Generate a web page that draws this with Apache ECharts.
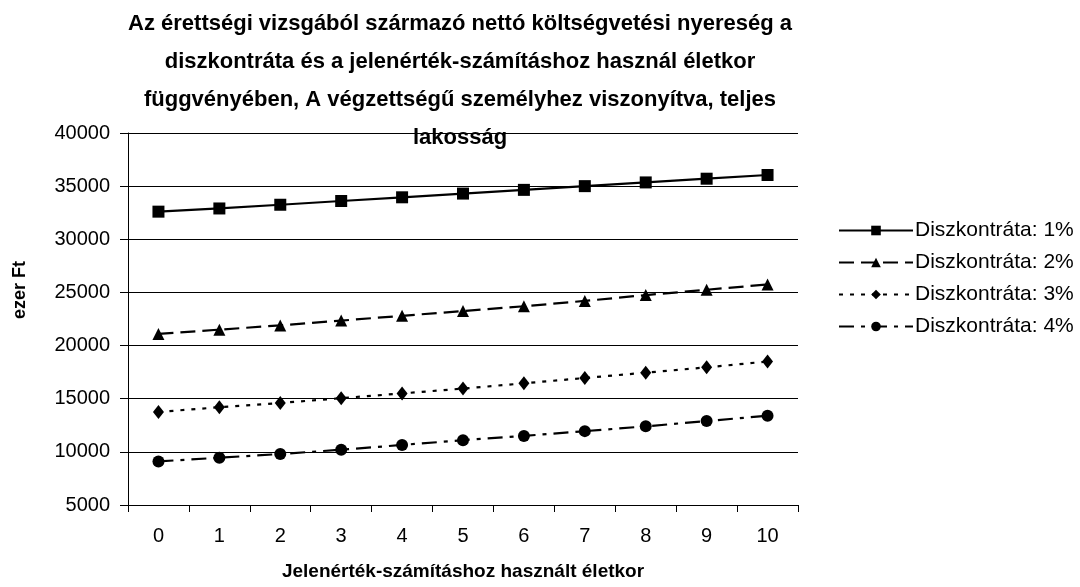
<!DOCTYPE html>
<html>
<head>
<meta charset="utf-8">
<script src="https://cdn.jsdelivr.net/npm/echarts@6/dist/echarts.min.js"></script>
<style>
  html, body { margin: 0; padding: 0; background: #fff; }
  #chart { width: 1080px; height: 587px; }
</style>
</head>
<body>
<div id="chart"></div>
<script>
// életkor kategóriák
var ages = ['0', '1', '2', '3', '4', '5', '6', '7', '8', '9', '10'];
var names = ['Diszkontráta: 1%', 'Diszkontráta: 2%', 'Diszkontráta: 3%', 'Diszkontráta: 4%'];
var rate1 = [32600, 32900, 33250, 33600, 33950, 34300, 34650, 35000, 35350, 35700, 36050];
var rate2 = [21100, 21500, 21900, 22350, 22800, 23250, 23700, 24200, 24750, 25250, 25750];
var rate3 = [13750, 14200, 14600, 15050, 15500, 15950, 16450, 16950, 17450, 17950, 18500];
var rate4 = [9100, 9450, 9800, 10200, 10650, 11100, 11500, 11950, 12400, 12900, 13400];

var font = '"Liberation Sans", Arial, sans-serif';

function line(name, data, symbol, size, dash) {
    return {
        name: name,
        type: 'line',
        data: data,
        symbol: symbol,
        symbolSize: size,
        showAllSymbol: true,
        animation: false,
        itemStyle: { color: '#000' },
        lineStyle: { color: '#000', width: 2.2, type: dash }
    };
}

var myChart = echarts.init(document.getElementById('chart'));
var option = {
    backgroundColor: '#fff',
    textStyle: { fontFamily: font },
    title: {
        text: 'Az érettségi vizsgából származó nettó költségvetési nyereség a\n' +
              'diszkontráta és a jelenérték-számításhoz használ életkor\n' +
              'függvényében, A végzettségű személyhez viszonyítva, teljes\n' +
              'lakosság',
        left: 455,
        top: 0,
        textAlign: 'center',
        textStyle: {
            fontFamily: font,
            fontSize: 22,
            fontWeight: 'bold',
            color: '#000',
            lineHeight: 38
        }
    },
    legend: {
        orient: 'vertical',
        left: 833,
        top: 215,
        itemWidth: 74,
        itemHeight: 12,
        itemGap: 11,
        data: names,
        textStyle: { fontFamily: font, fontSize: 21, color: '#000', padding: [0, 0, 0, -3] }
    },
    grid: { left: 128, right: 282, top: 133, bottom: 82 },
    xAxis: {
        type: 'category',
        data: ages,
        boundaryGap: true,
        name: 'Jelenérték-számításhoz használt életkor',
        nameLocation: 'middle',
        nameGap: 57,
        nameTextStyle: { fontFamily: font, fontSize: 19, fontWeight: 'bold', color: '#000' },
        axisLine: { lineStyle: { color: '#000', width: 1 } },
        axisTick: { show: true, length: 7, lineStyle: { color: '#000' } },
        axisLabel: { fontFamily: font, fontSize: 20, color: '#000', margin: 21 },
        splitLine: { show: false }
    },
    yAxis: {
        type: 'value',
        min: 5000,
        max: 40000,
        interval: 5000,
        name: 'ezer Ft',
        nameLocation: 'middle',
        nameRotate: 90,
        nameGap: 99,
        nameTextStyle: { fontFamily: font, fontSize: 18, fontWeight: 'bold', color: '#000', padding: [0, 0, 0, 58] },
        axisLine: { show: true, lineStyle: { color: '#000', width: 1 } },
        axisTick: { show: true, length: 8, lineStyle: { color: '#000' } },
        axisLabel: {
            fontFamily: font, fontSize: 20, color: '#000', margin: 18,
            formatter: function (v) { return String(v); }
        },
        splitLine: { show: true, lineStyle: { color: '#000', width: 1 } }
    },
    series: [
        line(names[0], rate1, 'rect', 12, 'solid'),
        line(names[1], rate2, 'triangle', 12, [15, 7]),
        line(names[2], rate3, 'diamond', [11, 14], [4, 7]),
        line(names[3], rate4, 'circle', 12, [15, 7, 4, 7])
    ]
};
myChart.setOption(option);
</script>
</body>
</html>
